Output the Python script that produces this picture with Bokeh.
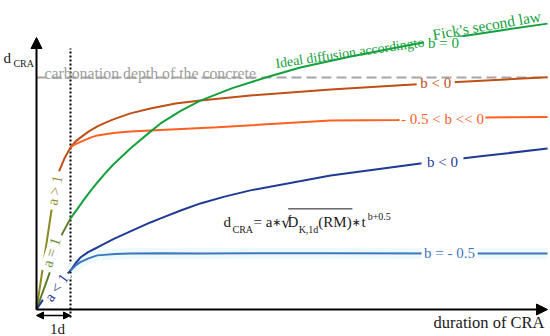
from bokeh.plotting import figure
from bokeh.models import Range1d, Label, Arrow, NormalHead
from bokeh.embed import file_html
from bokeh.resources import INLINE

# ---------------- data (time in days, depth in arbitrary units) ----------------
one_day = 1.0
carbonation_depth = 8.53
t_end = 15.03

# a > 1 : initial rise up to 1 d
t_a_gt1 = [0, 0.44, 0.65]
d_a_gt1 = [0, 3.64, 5.04]
# a > 1, b < 0
t_b_neg_hi = [0.65, 0.82, 1.0, 1.15, 1.29, 1.53, 1.79, 2.03, 2.26, 2.76, 3.35, 4.09, 4.82, 6.29, 8.65, 10.71, 12.38, 15.03]
d_b_neg_hi = [5.04, 5.55, 5.96, 6.18, 6.32, 6.54, 6.73, 6.87, 6.99, 7.21, 7.39, 7.57, 7.68, 7.87, 8.09, 8.24, 8.36, 8.54]
# a > 1, -0.5 < b << 0
t_b_small = [1.0, 1.09, 1.18, 1.38, 1.59, 1.79, 2.26, 2.76, 3.65, 5.32, 8.65, 10.62, 13.15, 15.03]
d_b_small = [5.96, 6.04, 6.10, 6.21, 6.32, 6.40, 6.49, 6.54, 6.60, 6.70, 6.95, 6.97, 7.06, 7.08]
# a = 1 : initial rise
t_a_eq1 = [0, 0.41, 0.76, 1.0]
d_a_eq1 = [0, 1.43, 2.79, 3.35]
# a = 1, b = 0 (ideal diffusion)
t_b_zero = [1.0, 1.21, 1.38, 1.59, 1.79, 2.03, 2.26, 2.76, 3.35, 3.65, 4.24, 4.82, 5.74, 6.74, 7.76, 9.24, 11.21, 12.47, 13.65, 15.03]
d_b_zero = [3.35, 3.71, 4.01, 4.36, 4.67, 5.02, 5.33, 5.92, 6.54, 6.84, 7.30, 7.68, 8.13, 8.53, 8.90, 9.30, 9.78, 10.04, 10.26, 10.51]
# a < 1 : initial rise
t_a_lt1 = [0, 0.21, 0.59, 1.0]
d_a_lt1 = [0, 0.40, 0.92, 1.43]
# a < 1, b < 0
t_b_neg_lo = [1.0, 1.15, 1.29, 1.53, 1.79, 2.26, 2.76, 3.35, 3.65, 4.24, 4.82, 5.53, 6.29, 8.65, 11.29, 13.06, 15.03]
d_b_neg_lo = [1.43, 1.70, 1.91, 2.12, 2.28, 2.59, 2.87, 3.20, 3.35, 3.64, 3.90, 4.15, 4.38, 4.93, 5.37, 5.63, 5.92]
# a < 1, b = -0.5
t_b_half = [1.0, 1.15, 1.29, 1.53, 1.79, 2.32, 2.76, 3.65, 4.82, 8.65, 12.18, 15.03]
d_b_half = [1.43, 1.62, 1.74, 1.88, 1.99, 2.04, 2.06, 2.07, 2.06, 2.07, 2.06, 2.06]

# ---------------- styles ----------------
FONT = "'Liberation Serif'"
SYM_FONT = "'DejaVu Sans'"
BROWN = "#C04F15"
ORANGE = "#FF5F1F"
GREEN = "#14A03D"
OLIVE = "#8D8A22"
OLIVE_GREEN = "#5E7D2B"
DARK_BLUE = "#1F3A93"
LIGHT_BLUE = "#3D77BE"
GRAY = "#A5A5A5"
INK = "#1a1a1a"

p = figure(width=550, height=336, x_range=Range1d(-1.0588, 15.1176), y_range=Range1d(-0.9926, 11.3603),
           output_backend="svg", toolbar_location=None, min_border=0,
           x_axis_location=None, y_axis_location=None)
p.grid.visible = False
p.outline_line_color = None
p.background_fill_color = "white"
p.border_fill_color = "white"

# carbonation depth (dashed)
p.line([0, t_end], [carbonation_depth, carbonation_depth], line_color=GRAY, line_width=2, line_dash="10 5")

# 1 d marker (dotted)
p.line([one_day, one_day], [-0.29, 9.6], line_color="black", line_width=2, line_dash="2 2")

# faint glow behind b = -0.5
p.line(t_b_half, d_b_half, line_color="#EEF9FC", line_width=11)

# curves
p.line(t_a_gt1, d_a_gt1, line_color=OLIVE, line_width=2)
p.line(t_b_neg_hi, d_b_neg_hi, line_color=BROWN, line_width=2)
p.line(t_b_small, d_b_small, line_color=ORANGE, line_width=2)
p.line(t_a_eq1, d_a_eq1, line_color=OLIVE_GREEN, line_width=2)
p.line(t_b_zero, d_b_zero, line_color=GREEN, line_width=2)
p.line(t_a_lt1, d_a_lt1, line_color=DARK_BLUE, line_width=2)
p.line(t_b_neg_lo, d_b_neg_lo, line_color=DARK_BLUE, line_width=2)
p.line(t_b_half, d_b_half, line_color=LIGHT_BLUE, line_width=2)

# axes with arrows
p.add_layout(Arrow(end=NormalHead(size=11, fill_color="black", line_color="black"),
                   x_start=0, y_start=0, x_end=0, y_end=10.0, line_width=2, line_color="black"))
p.add_layout(Arrow(end=NormalHead(size=11, fill_color="black", line_color="black"),
                   x_start=0, y_start=0, x_end=t_end, y_end=0, line_width=2, line_color="black"))
# 1 d double arrow
p.add_layout(Arrow(start=NormalHead(size=7, fill_color="black", line_color="black"),
                   end=NormalHead(size=7, fill_color="black", line_color="black"),
                   x_start=0, y_start=-0.22, x_end=one_day, y_end=-0.22, line_width=1.5, line_color="black"))


def lab(x, y, text, color, size=15, align="center", baseline="middle", angle=0, font=FONT):
    p.add_layout(Label(x=x, y=y, text=text, text_color=color, text_font=font,
                       text_font_size=f"{size}px", text_align=align, text_baseline=baseline,
                       angle=angle, angle_units="deg"))


def gap_label(x, y, text, color, w, h, angle=0):
    # white box that interrupts the curve, then the label on top
    p.rect(x=[x], y=[y], width=[w], height=[h], width_units="screen", height_units="screen",
           angle=angle, angle_units="deg", fill_color="white", line_color=None)
    lab(x, y, text, color, angle=angle)


# line labels
gap_label(11.97, 9.81, "b = 0", GREEN, 40, 12)
gap_label(11.74, 8.31, "b < 0", BROWN, 38, 9)
gap_label(11.94, 6.99, "- 0.5 < b << 0", ORANGE, 86, 12)
gap_label(11.94, 5.44, "b < 0", DARK_BLUE, 42, 12)
gap_label(12.15, 2.06, "b = - 0.5", LIGHT_BLUE, 56, 12)
gap_label(0.544, 4.38, "a > 1", "#9A8B35", 39, 12, angle=79)
gap_label(0.44, 2.10, "a = 1", "#6F8E3C", 39, 12, angle=72)
gap_label(0.59, 0.81, "a < 1", "#2B3F9A", 36, 11, angle=55)

# other texts
lab(0.235, 8.69, "carbonation depth of the concrete", "#A0A0A0", size=15.8, align="left", baseline="alphabetic")
lab(7.03, 9.04, "Ideal diffusion accordingto", GREEN, size=13.9, align="left", baseline="alphabetic", angle=8.3)
lab(11.65, 10.11, "Fick's second law", GREEN, size=15.5, align="left", baseline="alphabetic", angle=9.8)
lab(11.68, -0.48, "duration of CRA", INK, size=16.5, align="left", baseline="alphabetic")
lab(0.62, -0.70, "1d", INK)
lab(-0.97, 9.23, "d", INK, align="left", baseline="alphabetic")
lab(-0.68, 9.04, "CRA", INK, size=10, align="left", baseline="alphabetic")

# formula d_CRA = a * sqrt(D_K,1d(RM)) * t^(b+0.5)
lab(5.50, 3.20, "d", INK, align="left", baseline="alphabetic")
lab(5.765, 2.94, "CRA", INK, size=10, align="left", baseline="alphabetic")
lab(6.38, 3.20, "= a", INK, align="left", baseline="alphabetic")
lab(7.07, 3.20, "\u2217", INK, size=11, baseline="alphabetic", font=SYM_FONT)
lab(7.19, 3.20, "\u221a", INK, size=16, align="left", baseline="alphabetic", font=SYM_FONT)
lab(7.38, 3.20, "D", INK, align="left", baseline="alphabetic")
lab(7.71, 2.94, "K,1d", INK, size=10, align="left", baseline="alphabetic")
lab(8.29, 3.20, "(RM)", INK, align="left", baseline="alphabetic")
lab(9.41, 3.20, "\u2217", INK, size=11, baseline="alphabetic", font=SYM_FONT)
lab(9.56, 3.20, "t", INK, align="left", baseline="alphabetic")
lab(9.74, 3.42, "b+0.5", INK, size=10, align="left", baseline="alphabetic")
p.line([7.40, 9.29], [3.70, 3.70], line_color=INK, line_width=1)

open("out.html", "w").write(file_html(p, INLINE))
